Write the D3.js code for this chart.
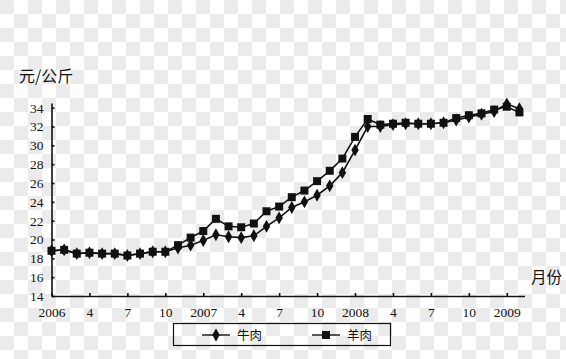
<!DOCTYPE html>
<html>
<head>
<meta charset="utf-8">
<script src="https://cdn.jsdelivr.net/npm/d3@7"></script>
<style>
  body { margin: 0; background: #fff; }
  svg { display: block; }
  .axis text { font-family: "Liberation Serif", "DejaVu Serif", serif; font-size: 13.5px; fill: #111; }
  .axis path, .axis line { stroke: #111; stroke-width: 1.6; }
  .cjk { font-family: "Noto Sans CJK SC", sans-serif; fill: #111; }
</style>
</head>
<body>
<div id="chart"></div>
<script>
// months counted from Jan 2006 (0) to Feb 2009 (37)
var months = d3.range(0, 38);
var beef = [18.8, 18.9, 18.5, 18.6, 18.5, 18.5, 18.3, 18.5, 18.7, 18.7, 19.1, 19.4,
            19.9, 20.5, 20.3, 20.2, 20.4, 21.4, 22.3, 23.4, 24.0, 24.7, 25.7, 27.1,
            29.5, 32.0, 32.0, 32.2, 32.3, 32.3, 32.3, 32.4, 32.7, 33.0, 33.3, 33.6,
            34.4, 33.9];
var mutton = [18.8, 18.9, 18.5, 18.6, 18.5, 18.5, 18.3, 18.5, 18.7, 18.7, 19.4, 20.2,
              20.9, 22.2, 21.4, 21.3, 21.7, 23.0, 23.5, 24.5, 25.2, 26.2, 27.3, 28.6,
              30.9, 32.8, 32.2, 32.3, 32.4, 32.3, 32.3, 32.4, 32.9, 33.2, 33.4, 33.8,
              34.1, 33.5];
var xTicks = [0, 3, 6, 9, 12, 15, 18, 21, 24, 27, 30, 33, 36];
var xTickLabels = ["2006", "4", "7", "10", "2007", "4", "7", "10", "2008", "4", "7", "10", "2009"];
var yTicks = [14, 16, 18, 20, 22, 24, 26, 28, 30, 32, 34];
var seriesNames = ["牛肉", "羊肉"];

var w = 566, h = 359;
var svg = d3.select("#chart").append("svg").attr("width", w).attr("height", h);

// transparent-png style checkerboard behind the chart (14px cells)
var cells = [];
d3.range(0, Math.ceil(w / 14)).forEach(function (c) {
    d3.range(0, Math.ceil(h / 14)).forEach(function (r) {
        if ((c + r) % 2 === 0) cells.push([c, r]);
    });
});
svg.append("rect").attr("width", w).attr("height", h).attr("fill", "#ffffff");
svg.append("g").selectAll("rect").data(cells).enter().append("rect")
    .attr("x", function (d) { return d[0] * 14; })
    .attr("y", function (d) { return d[1] * 14; })
    .attr("width", 14).attr("height", 14)
    .attr("fill", "#ebebeb");

var x = d3.scaleLinear().domain([0, 37.4]).range([51.5, 524.5]);
var y = d3.scaleLinear().domain([14, 34.5]).range([296, 103]);

// axes: small ticks pointing inward
var xAxis = d3.axisBottom(x)
    .tickValues(xTicks)
    .tickFormat(function (d, i) { return xTickLabels[i]; })
    .tickSizeInner(-3).tickSizeOuter(0).tickPadding(11);
svg.append("g").attr("class", "axis").attr("transform", "translate(0," + y(14) + ")").call(xAxis);

var yAxis = d3.axisLeft(y)
    .tickValues(yTicks)
    .tickSizeInner(-3).tickSizeOuter(0).tickPadding(8);
svg.append("g").attr("class", "axis").attr("transform", "translate(" + x(0) + ",0)").call(yAxis);

svg.append("text").attr("class", "cjk").attr("x", 19).attr("y", 82)
    .attr("font-size", 16).text("元/公斤");
svg.append("text").attr("class", "cjk").attr("x", 531).attr("y", 283)
    .attr("font-size", 15.5).text("月份");

var line = d3.line()
    .x(function (d, i) { return x(months[i]); })
    .y(function (d) { return y(d); });

var diamond = d3.symbol().type(d3.symbolDiamond).size(48);
var square = d3.symbol().type(d3.symbolSquare).size(64);

function drawSeries(values, sym) {
    svg.append("path").datum(values)
        .attr("fill", "none").attr("stroke", "#111").attr("stroke-width", 1.6)
        .attr("d", line);
    svg.append("g").selectAll("path").data(values).enter().append("path")
        .attr("d", sym)
        .attr("fill", "#111")
        .attr("transform", function (d, i) { return "translate(" + x(months[i]) + "," + y(d) + ")"; });
}
drawSeries(mutton, square);
drawSeries(beef, diamond);

// legend
var lg = svg.append("g");
lg.append("rect").attr("x", 173.5).attr("y", 323.5).attr("width", 217).attr("height", 22)
    .attr("fill", "none").attr("stroke", "#111").attr("stroke-width", 1.2);
var entries = [{ x: 202, sym: diamond }, { x: 312, sym: square }];
entries.forEach(function (e, i) {
    lg.append("line").attr("x1", e.x).attr("x2", e.x + 28).attr("y1", 335).attr("y2", 335)
        .attr("stroke", "#111").attr("stroke-width", 1.4);
    lg.append("path").attr("d", e.sym).attr("fill", "#111")
        .attr("transform", "translate(" + (e.x + 14) + ",335)");
    lg.append("text").attr("class", "cjk").attr("x", e.x + 35).attr("y", 339.5)
        .attr("font-size", 12.5).text(seriesNames[i]);
});
</script>
</body>
</html>
